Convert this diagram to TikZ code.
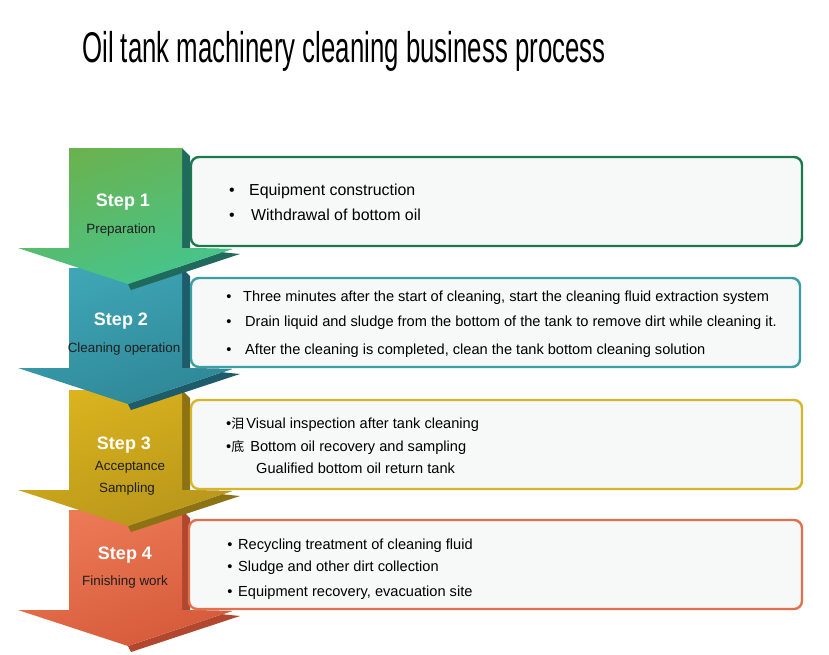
\documentclass[tikz,border=0pt]{standalone}
\usepackage{fontspec}
\setmainfont{Liberation Sans}
\newfontfamily\cjkfont{Noto Sans CJK SC}
\definecolor{gA}{HTML}{6AB24F}\definecolor{gB}{HTML}{45C58E}\definecolor{gS}{HTML}{1F6A5C}
\definecolor{tA}{HTML}{3FA6B6}\definecolor{tB}{HTML}{2E8797}\definecolor{tS}{HTML}{1D5D6B}
\definecolor{yA}{HTML}{DAB31E}\definecolor{yB}{HTML}{B8961A}\definecolor{yS}{HTML}{8C7212}
\definecolor{oA}{HTML}{EC7A55}\definecolor{oB}{HTML}{D65A3B}\definecolor{oS}{HTML}{B0472E}
\definecolor{bdA}{HTML}{1B7A4C}\definecolor{bdB}{HTML}{3A9FA3}\definecolor{bdC}{HTML}{D6B52A}\definecolor{bdD}{HTML}{E0714F}
\definecolor{boxfill}{HTML}{F7F8F8}
\definecolor{sub}{HTML}{1E1E1E}
\newcommand\myarrow[4]{%
  \fill[#4] (182,#1) -- (190,#1+8) -- (190,#1+101) -- (240,#1+106) -- (131,#1+142) -- (128,#1+136) -- (232,#1+101) -- (182,#1+100) -- cycle;
  \shade[top color=#2,bottom color=#3,shading angle=20] (69,#1) -- (182,#1) -- (182,#1+100) -- (232,#1+101) -- (128,#1+136) -- (18,#1+100) -- (69,#1+100) -- cycle;
}
\newcommand\myitem[5]{%
  \node[bul] (#1b) at (#2,#4) {•};
  \node[txt] (#1) at (#3,#4) {#5};
}
\tikzset{
  infobox/.style={line width=2.4pt,rounded corners=8pt,fill=boxfill},
  bul/.style={anchor=mid,inner sep=0pt},
  txt/.style={anchor=mid west,inner sep=0pt,text=black},
  steplabel/.style={inner sep=0pt,text=white,font=\bfseries\fontsize{18}{18}\selectfont},
  sublabel/.style={inner sep=0pt,text=sub,font=\fontsize{13.4}{14}\selectfont},
}
\begin{document}
\begin{tikzpicture}[x=1pt,y=-1pt]
\useasboundingbox (0,0) rectangle (829,654);
\fill[white] (0,0) rectangle (829,654);
\node[anchor=base west,inner sep=0pt] (title) at (82,62) {\scalebox{0.6}[1]{\fontsize{43}{43}\selectfont Oil tank machinery cleaning business process}};
% arrows (bottom first)
\myarrow{510}{oA}{oB}{oS}
\myarrow{390}{yA}{yB}{yS}
\myarrow{268}{tA}{tB}{tS}
\myarrow{148}{gA}{gB}{gS}
% boxes
\draw[infobox,draw=bdA] (191,157) rectangle (802,246);
\draw[infobox,draw=bdB] (191,278) rectangle (800,367);
\draw[infobox,draw=bdC] (191,400) rectangle (802,489);
\draw[infobox,draw=bdD] (189,520) rectangle (802,609);
% step labels
\node[steplabel] (s1) at (123,202) {Step 1};
\node[sublabel] (s1a) at (121,230) {Preparation};
\node[steplabel] (s2) at (121,321) {Step 2};
\node[sublabel] (s2a) at (124,349) {Cleaning operation};
\node[steplabel] (s3) at (124,445) {Step 3};
\node[sublabel] (s3a) at (130,467) {Acceptance};
\node[sublabel] (s3b) at (127,489) {Sampling};
\node[steplabel] (s4) at (125,555) {Step 4};
\node[sublabel] (s4a) at (125,582) {Finishing work};
% box 1
\begin{scope}[font=\fontsize{15.9}{16}\selectfont]
\myitem{a1}{232}{249}{193}{Equipment construction}
\myitem{a2}{232}{251}{218}{Withdrawal of bottom oil}
\end{scope}
% box 2
\begin{scope}[font=\fontsize{14.6}{15}\selectfont]
\myitem{b1}{229}{243}{299}{Three minutes after the start of cleaning, start the cleaning fluid extraction system}
\myitem{b2}{229}{245}{324}{Drain liquid and sludge from the bottom of the tank to remove dirt while cleaning it.}
\myitem{b3}{229}{245}{352}{After the cleaning is completed, clean the tank bottom cleaning solution}
\end{scope}
% box 3
\begin{scope}[font=\fontsize{14.6}{15}\selectfont]
\node[txt] (c1) at (226,426) {•{\cjkfont\fontsize{13}{13}\selectfont 泪}\hspace{2pt}Visual inspection after tank cleaning};
\node[txt] (c2) at (226,449) {•{\cjkfont\fontsize{13}{13}\selectfont 底}\hspace{6pt}Bottom oil recovery and sampling};
\node[txt] (c3) at (256,471) {Gualified bottom oil return tank};
\end{scope}
% box 4
\begin{scope}[font=\fontsize{14.6}{15}\selectfont]
\myitem{d1}{230}{238}{547}{Recycling treatment of cleaning fluid}
\myitem{d2}{230}{238}{569}{Sludge and other dirt collection}
\myitem{d3}{230}{238}{594}{Equipment recovery, evacuation site}
\end{scope}
\end{tikzpicture}
\end{document}
